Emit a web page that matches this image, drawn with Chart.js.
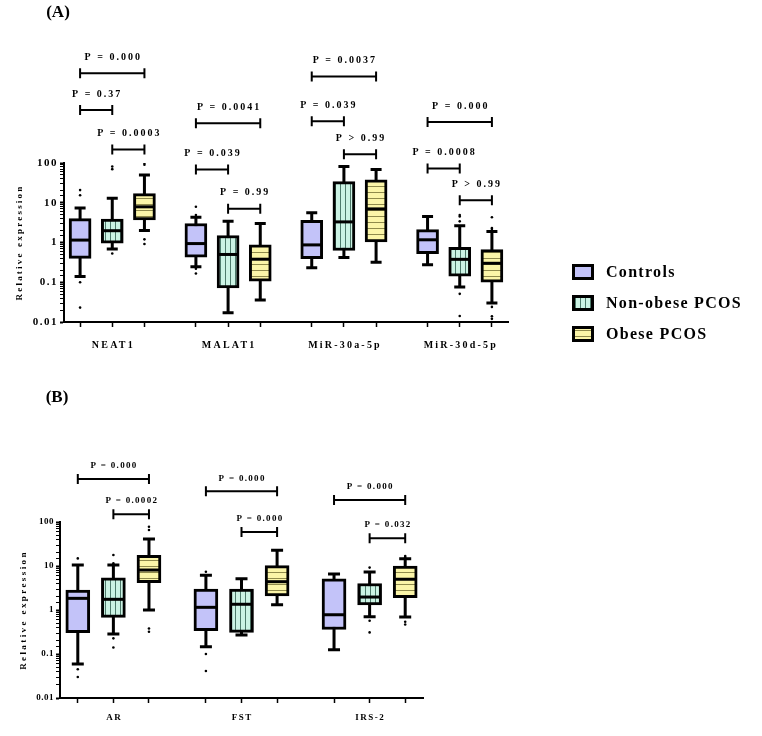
<!DOCTYPE html>
<html><head><meta charset="utf-8">
<script src="https://cdn.jsdelivr.net/npm/chart.js@4.4.0/dist/chart.umd.min.js"></script>
<style>
html,body{margin:0;padding:0;background:#fff;}
#wrap{position:relative;width:762px;height:736px;background:#fff;}
canvas{position:absolute;left:0;}
</style></head><body>
<div id="wrap">
<canvas id="cA" width="762" height="380" style="top:0px"></canvas>
<canvas id="cB" width="762" height="356" style="top:380px"></canvas>
</div>
<script>
// ---------------- DATA ----------------
const groups = ['Controls', 'Non-obese PCOS', 'Obese PCOS'];
const yTickValues = [0.01, 0.1, 1, 10, 100];

// Panel A  — each entry: [min, Q1, median, Q3, max]
const categoriesA = ['NEAT1', 'MALAT1', 'MiR-30a-5p', 'MiR-30d-5p'];
const controlsA  = [[0.14, 0.40, 1.15, 4.0, 7.4], [0.245, 0.43, 0.94, 3.0, 4.3], [0.23, 0.39, 0.87, 3.6, 5.6], [0.276, 0.52, 1.17, 2.1, 4.5]];
const nonObeseA  = [[0.69, 0.96, 1.98, 3.9, 12.9], [0.017, 0.072, 0.50, 1.5, 3.4], [0.42, 0.63, 3.3, 34, 82], [0.076, 0.142, 0.377, 0.76, 2.65]];
const obeseA     = [[2.0, 3.7, 7.9, 16.9, 50], [0.036, 0.106, 0.38, 0.87, 3.0], [0.32, 1.04, 7.0, 37.6, 69], [0.030, 0.10, 0.30, 0.66, 1.9]];
const controlsOutA = [[20.8, 15.4, 0.10, 0.023], [7.9, 4.9, 0.22, 0.166], [], []];
const nonObeseOutA = [[82, 70, 0.53], [], [], [4.9, 4.5, 3.4, 0.051, 0.0142]];
const obeseOutA    = [[100, 90, 1.2, 0.92], [], [], [4.3, 2.3, 2.2, 0.024, 0.014, 0.012]];
// brackets: [category index, from group, to group, level (data units), label]
const bracketsA = [
  [0, 0, 2, 18000, 'P = 0.000'], [0, 0, 1, 2140, 'P = 0.37'], [0, 1, 2, 220, 'P = 0.0003'],
  [1, 0, 2, 1000, 'P = 0.0041'], [1, 0, 1, 69, 'P = 0.039'], [1, 1, 2, 7.1, 'P = 0.99'],
  [2, 0, 2, 15000, 'P = 0.0037'], [2, 0, 1, 1120, 'P = 0.039'], [2, 1, 2, 166, 'P > 0.99'],
  [3, 0, 2, 1070, 'P = 0.000'], [3, 0, 1, 73, 'P = 0.0008'], [3, 1, 2, 11.5, 'P > 0.99']
];

// Panel B
const categoriesB = ['AR', 'FST', 'IRS-2'];
const controlsB  = [[0.059, 0.305, 1.84, 2.85, 10.5], [0.147, 0.34, 1.15, 3.0, 6.2], [0.125, 0.36, 0.78, 5.1, 6.6]];
const nonObeseB  = [[0.285, 0.68, 1.75, 5.4, 10.5], [0.27, 0.31, 1.35, 3.0, 5.1], [0.70, 1.3, 1.97, 4.0, 7.3]];
const obeseB     = [[1.0, 4.2, 8.1, 17.5, 41], [1.32, 2.1, 4.4, 10.2, 22.7], [0.69, 1.9, 5.0, 10.0, 14.7]];
const controlsOutB = [[14.9, 0.045, 0.030], [7.4, 0.10, 0.041], []];
const nonObeseOutB = [[17.8, 11.5, 0.227, 0.14], [], [9.2, 0.57, 0.31]];
const obeseOutB    = [[78, 66, 0.38, 0.32], [], [16.9, 15.7, 0.54, 0.47]];
const bracketsB = [
  [0, 0, 2, 950, 'P = 0.000'], [0, 1, 2, 151, 'P = 0.0002'],
  [1, 0, 2, 500, 'P = 0.000'], [1, 1, 2, 59, 'P = 0.000'],
  [2, 0, 2, 316, 'P = 0.000'], [2, 1, 2, 43, 'P = 0.032']
];

// ---------------- STYLE ----------------
const SERIF = "'Liberation Serif','Times New Roman',serif";
const GAP = 3.6; // spacing between group centres in box units
function pos(ci, gi) { return ci * GAP + (gi - 1); }

function makePattern(kind) {
  const c = document.createElement('canvas');
  const x = c.getContext('2d');
  if (kind === 'solid') {
    c.width = 4; c.height = 4; x.fillStyle = '#c3c3f9'; x.fillRect(0, 0, 4, 4);
  } else if (kind === 'v') {
    c.width = 5; c.height = 5; x.fillStyle = '#cbf3e4'; x.fillRect(0, 0, 5, 5);
    x.fillStyle = '#4d7a6b'; x.fillRect(0, 0, 1, 5);
  } else {
    c.width = 6; c.height = 6; x.fillStyle = '#fbf5a8'; x.fillRect(0, 0, 6, 6);
    x.fillStyle = '#8f8a4c'; x.fillRect(0, 0, 6, 1);
  }
  return x.createPattern(c, 'repeat');
}
const fills = [makePattern('solid'), makePattern('v'), makePattern('h')];

function buildChart(canvasId, p) {
  const n = p.categories.length;
  const stats = [p.controls, p.nonObese, p.obese];
  const outs = [p.controlsOut, p.nonObeseOut, p.obeseOut];
  const positions = [];
  for (let i = 0; i < n; i++) for (let g = 0; g < 3; g++) positions.push(pos(i, g));

  const datasets = [];
  stats.forEach((arr, g) => {
    datasets.push({
      type: 'bar', label: groups[g], grouped: false,
      data: arr.map((s, i) => ({ x: pos(i, g), y: [s[1], s[3]] })),
      backgroundColor: fills[g], borderColor: '#000', borderWidth: 3, borderSkipped: false,
      barThickness: p.boxW, order: 2
    });
  });
  outs.forEach((arr, g) => {
    const pts = [];
    arr.forEach((list, i) => list.forEach(v => pts.push({ x: pos(i, g), y: v })));
    datasets.push({
      type: 'scatter', label: groups[g] + ' outliers', data: pts,
      pointStyle: 'circle', pointRadius: 1.3, pointBackgroundColor: '#000', pointBorderWidth: 0, order: 1
    });
  });

  function txt(ctx, s, x, y, size, spacing, align, base) {
    ctx.save();
    ctx.font = 'bold ' + size + 'px ' + SERIF;
    ctx.letterSpacing = spacing + 'px';
    ctx.fillStyle = '#000';
    ctx.textAlign = align || 'center';
    ctx.textBaseline = base || 'middle';
    ctx.fillText(s, x, y);
    ctx.restore();
  }

  const plugin = {
    id: 'boxplot_' + canvasId,
    beforeDraw(chart) { chart.ctx.letterSpacing = p.tickSpacing + 'px'; },
    beforeDatasetsDraw(chart) {
      const ctx = chart.ctx, xs = chart.scales.x, ys = chart.scales.y;
      ctx.save();
      ctx.strokeStyle = '#000'; ctx.lineWidth = 3; ctx.lineCap = 'butt';
      stats.forEach((arr, g) => arr.forEach((s, i) => {
        const px = xs.getPixelForValue(pos(i, g));
        const yMin = ys.getPixelForValue(s[0]), yMax = ys.getPixelForValue(s[4]);
        ctx.beginPath();
        ctx.moveTo(px, yMax); ctx.lineTo(px, yMin);
        ctx.moveTo(px - p.capW / 2, yMax); ctx.lineTo(px + p.capW / 2, yMax);
        ctx.moveTo(px - p.capW / 2, yMin); ctx.lineTo(px + p.capW / 2, yMin);
        ctx.stroke();
      }));
      ctx.restore();
    },
    afterDatasetsDraw(chart) {
      const ctx = chart.ctx, xs = chart.scales.x, ys = chart.scales.y;
      ctx.save();
      ctx.strokeStyle = '#000'; ctx.lineWidth = 3;
      stats.forEach((arr, g) => arr.forEach((s, i) => {
        const px = xs.getPixelForValue(pos(i, g));
        const py = ys.getPixelForValue(s[2]);
        ctx.beginPath();
        ctx.moveTo(px - p.boxW / 2 + 1, py); ctx.lineTo(px + p.boxW / 2 - 1, py);
        ctx.stroke();
      }));
      ctx.restore();
    },
    afterDraw(chart) {
      const ctx = chart.ctx, xs = chart.scales.x, ys = chart.scales.y, ca = chart.chartArea;
      // brackets
      ctx.save();
      ctx.strokeStyle = '#000'; ctx.lineWidth = 2;
      p.brackets.forEach(b => {
        const x1 = xs.getPixelForValue(pos(b[0], b[1])), x2 = xs.getPixelForValue(pos(b[0], b[2]));
        const y = ys.getPixelForValue(b[3]);
        ctx.beginPath();
        ctx.moveTo(x1, y); ctx.lineTo(x2, y);
        ctx.moveTo(x1, y - p.endH); ctx.lineTo(x1, y + p.endH);
        ctx.moveTo(x2, y - p.endH); ctx.lineTo(x2, y + p.endH);
        ctx.stroke();
        txt(ctx, b[4], (x1 + x2) / 2 + p.pSpacing / 2, y - p.pOffset, p.pSize, p.pSpacing);
      });
      ctx.restore();
      // category labels
      p.categories.forEach((c, i) => {
        txt(ctx, c, xs.getPixelForValue(pos(i, 1)) + p.catSpacing / 2, ca.bottom + p.catOffset, p.catSize, p.catSpacing);
      });
      // y-axis title
      ctx.save();
      ctx.translate(p.titleX, (ca.top + ca.bottom) / 2);
      ctx.rotate(-Math.PI / 2);
      txt(ctx, 'Relative expression', 0, 0, p.titleSize, p.titleSpacing);
      ctx.restore();
      // panel letter
      txt(ctx, p.panel, p.panelX, p.panelY, 17, 0);
      // legend
      if (p.legend) {
        groups.forEach((gname, g) => {
          const y = p.legend.y + g * p.legend.dy;
          ctx.save();
          ctx.fillStyle = fills[g];
          ctx.fillRect(p.legend.x, y - 8, 22, 16);
          ctx.strokeStyle = '#000'; ctx.lineWidth = 3;
          ctx.strokeRect(p.legend.x + 1.5, y - 8 + 1.5, 19, 13);
          ctx.restore();
          txt(ctx, gname, p.legend.x + 34, y + 1, 16, 1.3, 'left');
        });
      }
    }
  };

  return new Chart(document.getElementById(canvasId), {
    data: { datasets },
    options: {
      responsive: false, animation: false, devicePixelRatio: 1,
      layout: { padding: p.padding },
      plugins: { legend: { display: false }, tooltip: { enabled: false } },
      scales: {
        x: {
          type: 'linear', offset: false, min: -1.5, max: (n - 1) * GAP + 1.5,
          afterBuildTicks: s => { s.ticks = positions.map(v => ({ value: v })); },
          afterFit: s => { s.height = 30; },
          ticks: { autoSkip: false, callback: () => '' },
          grid: { offset: false, drawOnChartArea: false, drawTicks: true, tickLength: 5, tickWidth: 1.5, tickColor: '#000' },
          border: { display: true, color: '#000', width: 2 }
        },
        y: {
          type: 'logarithmic', min: yTickValues[0], max: yTickValues[yTickValues.length - 1],
          afterFit: s => { s.width = p.yW; },
          ticks: {
            autoSkip: false, color: '#000', padding: 2,
            font: { family: SERIF, weight: 'bold', size: p.tickSize },
            callback: v => {
              const hit = yTickValues.find(t => Math.abs(Math.log10(v) - Math.log10(t)) < 1e-6);
              return hit !== undefined ? String(hit) : '';
            }
          },
          grid: {
            drawOnChartArea: false, drawTicks: true, tickLength: 4, tickColor: '#000',
            tickWidth: c => (yTickValues.some(t => Math.abs(Math.log10(c.tick.value) - Math.log10(t)) < 1e-6) ? 2 : 1)
          },
          border: { display: true, color: '#000', width: 2 }
        }
      }
    },
    plugins: [plugin]
  });
}

buildChart('cA', {
  categories: categoriesA, controls: controlsA, nonObese: nonObeseA, obese: obeseA,
  controlsOut: controlsOutA, nonObeseOut: nonObeseOutA, obeseOut: obeseOutA, brackets: bracketsA,
  padding: { left: 0, top: 163, right: 254, bottom: 28 }, yW: 64, boxW: 22, capW: 11, endH: 5,
  pSize: 10, pSpacing: 2, pOffset: 16, catSize: 10, catSpacing: 2.2, catOffset: 23,
  titleX: 20, titleSize: 9, titleSpacing: 2.2, tickSize: 11, tickSpacing: 1.5,
  panel: '(A)', panelX: 58, panelY: 13, legend: { x: 572, y: 272, dy: 31 }
});
buildChart('cB', {
  categories: categoriesB, controls: controlsB, nonObese: nonObeseB, obese: obeseB,
  controlsOut: controlsOutB, nonObeseOut: nonObeseOutB, obeseOut: obeseOutB, brackets: bracketsB,
  padding: { left: 0, top: 142, right: 339, bottom: 8 }, yW: 60, boxW: 24, capW: 12, endH: 5,
  pSize: 9, pSpacing: 1.3, pOffset: 13, catSize: 9, catSpacing: 1.5, catOffset: 20,
  titleX: 24, titleSize: 9, titleSpacing: 2.4, tickSize: 9, tickSpacing: 0.5,
  panel: '(B)', panelX: 57, panelY: 18, legend: null
});
</script>
</body></html>
